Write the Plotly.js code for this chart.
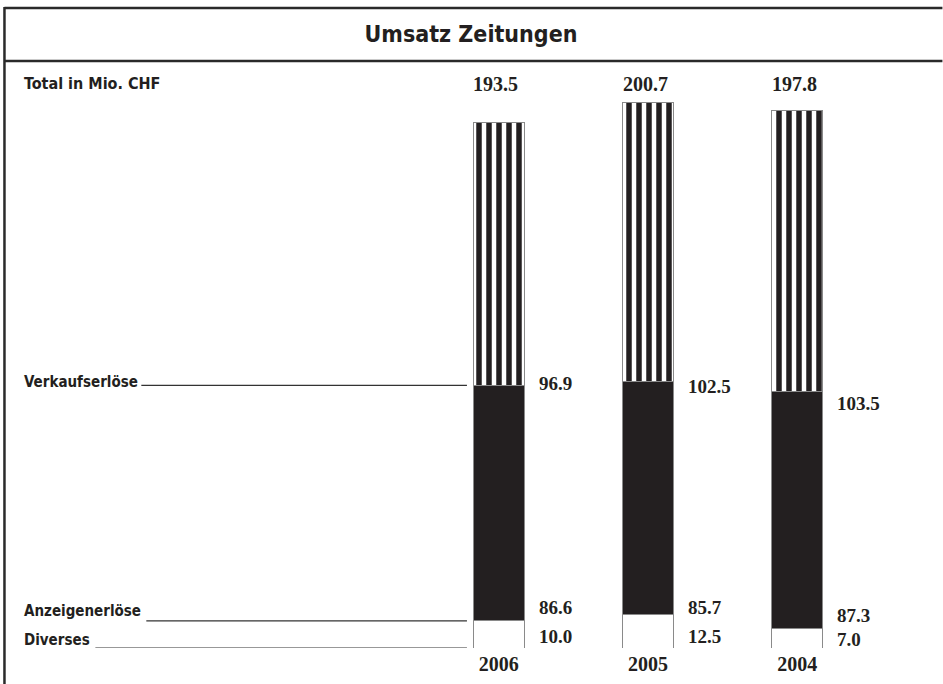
<!DOCTYPE html>
<html>
<head>
<meta charset="utf-8">
<script src="https://cdn.plot.ly/plotly-3.0.1.min.js"></script>
<style>html,body{margin:0;padding:0;background:#fff;}#chart{width:943px;height:684px;}</style>
</head>
<body>
<div id="chart"></div>
<script>
// ---- data ----
var years = ['2006', '2005', '2004'];
var verkaufserloese = [96.9, 102.5, 103.5];
var anzeigenerloese = [86.6, 85.7, 87.3];
var diverses = [10.0, 12.5, 7.0];
var totals = [193.5, 200.7, 197.8];
var seriesNames = ['Verkaufserlöse', 'Anzeigenerlöse', 'Diverses'];
var titleText = 'Umsatz Zeitungen';
var unitText = 'Total in Mio. CHF';

// ---- layout / style ----
var W = 943, H = 684;
var ml = 424, mr = 70.5, mt = 50, mb = 36;
var pw = W - ml - mr, ph = H - mt - mb;
function px(x) { return (x - ml) / pw; }
function py(y) { return (H - mb - y) / ph; }

var labFam = 'DejaVu Sans Condensed, DejaVu Sans, sans-serif';
var labFont = {family: labFam, size: 15, color: '#231f20', weight: 'bold', stretch: 'condensed'};
var numFont = {family: 'Liberation Serif, DejaVu Serif, serif', size: 19, color: '#231f20', weight: 'bold'};
var tickFont = {family: 'Liberation Serif, DejaVu Serif, serif', size: 20, color: '#231f20', weight: 'bold'};
var dark = '#231f20';
var verkShift = [2, -5, -12];
var anzShift = [13, 7, 13];
var divShift = [12, 12, 9];

var traces = [
  {type: 'bar', x: years, y: diverses, name: seriesNames[2],
   marker: {color: '#ffffff', line: {color: '#8a8a8a', width: 1}}, hoverinfo: 'skip'},
  {type: 'bar', x: years, y: anzeigenerloese, name: seriesNames[1],
   marker: {color: dark, line: {color: '#8a8a8a', width: 1}}, hoverinfo: 'skip'},
  {type: 'bar', x: years, y: verkaufserloese, name: seriesNames[0],
   marker: {color: '#ffffff', line: {color: '#8a8a8a', width: 1},
            pattern: {shape: '|', fgcolor: dark, bgcolor: '#ffffff', size: 10, solidity: 0.55, fillmode: 'replace'}},
   hoverinfo: 'skip'}
];

var ann = [];
var shapes = [];
for (var i = 0; i < years.length; i++) {
  ann.push({x: i, y: py(84), xref: 'x', yref: 'paper', text: totals[i].toFixed(1),
            showarrow: false, xanchor: 'center', yanchor: 'middle', font: tickFont, xshift: -3});
  ann.push({x: i, y: diverses[i] + anzeigenerloese[i], xref: 'x', yref: 'y', text: verkaufserloese[i].toFixed(1),
            showarrow: false, xanchor: 'left', yanchor: 'middle', xshift: 38, yshift: verkShift[i], font: numFont});
  ann.push({x: i, y: diverses[i], xref: 'x', yref: 'y', text: anzeigenerloese[i].toFixed(1),
            showarrow: false, xanchor: 'left', yanchor: 'middle', xshift: 38, yshift: anzShift[i], font: numFont});
  ann.push({x: i, y: 0, xref: 'x', yref: 'y', text: diverses[i].toFixed(1),
            showarrow: false, xanchor: 'left', yanchor: 'middle', xshift: 38, yshift: divShift[i], font: numFont});
}
// left labels with leader lines to the 2006 bar
ann.push({x: px(22), y: py(84), xref: 'paper', yref: 'paper', text: unitText, showarrow: false,
          xanchor: 'left', yanchor: 'middle', font: {family: labFam, size: 16, color: dark, weight: 'bold', stretch: 'condensed'}});
var leaderY = [diverses[0] + anzeigenerloese[0], diverses[0], 0];
var leaderStart = [141, 146, 95];
var leaderTextShift = [3, 10, 8];
for (var k = 0; k < 3; k++) {
  ann.push({x: px(22), y: leaderY[k], xref: 'paper', yref: 'y', text: seriesNames[k], showarrow: false,
            xanchor: 'left', yanchor: 'middle', yshift: leaderTextShift[k], font: labFont});
  shapes.push({type: 'line', xref: 'paper', yref: 'y', x0: px(leaderStart[k]), x1: px(467),
               y0: leaderY[k], y1: leaderY[k],
               line: {color: '#333', width: 1.2}});
}
// frame
shapes.push({type: 'line', xref: 'paper', yref: 'paper', x0: px(4), x1: px(943), y0: py(8), y1: py(8), line: {color: '#2a2a2a', width: 2.5}});
shapes.push({type: 'line', xref: 'paper', yref: 'paper', x0: px(4), x1: px(943), y0: py(61), y1: py(61), line: {color: '#2a2a2a', width: 2.5}});
shapes.push({type: 'line', xref: 'paper', yref: 'paper', x0: px(4), x1: px(4), y0: py(7), y1: py(684), line: {color: '#2a2a2a', width: 2.5}});

var layout = {
  width: W, height: H,
  margin: {l: ml, r: mr, t: mt, b: mb, pad: 0},
  paper_bgcolor: '#ffffff', plot_bgcolor: '#ffffff',
  showlegend: false,
  barmode: 'stack',
  bargap: 0.659,
  title: {text: titleText, x: 471 / W, xref: 'container', xanchor: 'center', y: 1 - 34 / H, yanchor: 'middle',
          font: {family: labFam, size: 23, color: dark, weight: 'bold', stretch: 'condensed'}},
  xaxis: {type: 'category', range: [-0.5, 2.5], showgrid: false, zeroline: false, showline: false,
          ticks: '', ticklabelstandoff: 2, tickfont: tickFont, fixedrange: true},
  yaxis: {range: [0, 220], visible: false, fixedrange: true},
  annotations: ann,
  shapes: shapes
};

Plotly.newPlot('chart', traces, layout, {displayModeBar: false, staticPlot: true});
</script>
</body>
</html>
